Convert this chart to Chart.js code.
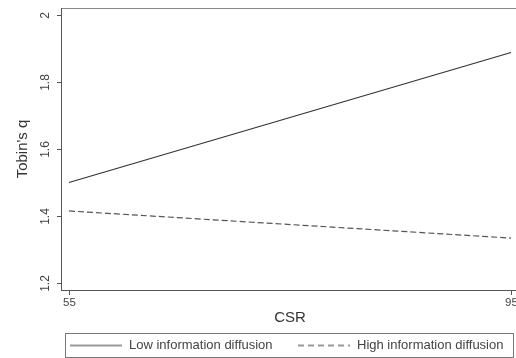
<!DOCTYPE html>
<html>
<head>
<meta charset="utf-8">
<script src="https://cdn.jsdelivr.net/npm/chart.js@4"></script>
<style>
  html, body { margin: 0; padding: 0; background: #fff; overflow: hidden; }
  #wrap { width: 524px; height: 358px; }
</style>
</head>
<body>
<div id="wrap"><canvas id="chart"></canvas></div>
<script>
// data
const csrPoints = [55, 95]
const lowDiffusion = [1.50, 1.888]
const highDiffusion = [1.415, 1.334]
const seriesLabels = ["Low information diffusion", "High information diffusion"]
const xTickValues = [55, 95]
const yTickValues = [1.2, 1.4, 1.6, 1.8, 2]
const yTickText = ["1.2", "1.4", "1.6", "1.8", "2"]

const FONT = "'Liberation Sans', Arial, sans-serif"

// axes, frame, labels and legend drawn by hand in Stata style
const stataFrame = {
    id: "stataFrame",
    beforeDatasetsDraw(chart) {
        const ctx = chart.ctx
        const a = chart.chartArea
        ctx.save()
        ctx.strokeStyle = "#8a8a8a"
        ctx.lineWidth = 1
        ctx.strokeRect(a.left + 0.5, a.top + 0.5, a.right - a.left, a.bottom - a.top)
        ctx.strokeStyle = "#555"
        ctx.beginPath()
        ctx.moveTo(a.left + 0.5, a.top); ctx.lineTo(a.left + 0.5, a.bottom + 0.5)
        ctx.lineTo(a.right, a.bottom + 0.5)
        ctx.stroke()
        ctx.restore()
    },
    afterDraw(chart) {
        const ctx = chart.ctx
        const a = chart.chartArea
        const xs = chart.scales.x
        const ys = chart.scales.y
        ctx.save()
        ctx.strokeStyle = "#555"
        ctx.fillStyle = "#444"
        ctx.lineWidth = 1

        // y ticks + rotated labels
        ctx.font = "12px " + FONT
        ctx.textAlign = "center"
        ctx.textBaseline = "middle"
        yTickValues.forEach((v, i) => {
            const py = Math.round(ys.getPixelForValue(v)) + 0.5
            ctx.beginPath(); ctx.moveTo(a.left - 4, py); ctx.lineTo(a.left, py); ctx.stroke()
            ctx.save()
            ctx.translate(a.left - 15, py)
            ctx.rotate(-Math.PI / 2)
            ctx.fillText(yTickText[i], 0, 0)
            ctx.restore()
        })

        // x ticks + labels
        ctx.font = "11.5px " + FONT
        xTickValues.forEach(v => {
            const px = Math.round(xs.getPixelForValue(v)) + 0.5
            ctx.beginPath(); ctx.moveTo(px, a.bottom); ctx.lineTo(px, a.bottom + 5); ctx.stroke()
            ctx.fillText(String(v), px, a.bottom + 13)
        })

        // axis titles
        ctx.fillStyle = "#333"
        ctx.font = "15px " + FONT
        ctx.fillText("CSR", (a.left + a.right) / 2, a.bottom + 28)
        ctx.save()
        ctx.translate(23, (a.top + a.bottom) / 2)
        ctx.rotate(-Math.PI / 2)
        ctx.fillText("Tobin's q", 0, 0)
        ctx.restore()

        // legend box
        ctx.strokeStyle = "#777"
        ctx.strokeRect(65.5, 333.5, 448, 24)
        ctx.font = "13px " + FONT
        ctx.textAlign = "left"
        const ly = 345.5
        const items = [
            { x: 70, tx: 129, dash: [], color: "#999" },
            { x: 298, tx: 357, dash: [6, 4], color: "#999" }
        ]
        chart.data.datasets.forEach((ds, i) => {
            const it = items[i]
            ctx.save()
            ctx.strokeStyle = it.color
            ctx.lineWidth = 2
            ctx.setLineDash(it.dash)
            ctx.beginPath(); ctx.moveTo(it.x, ly); ctx.lineTo(it.x + 52, ly); ctx.stroke()
            ctx.restore()
            ctx.fillStyle = "#444"
            ctx.fillText(ds.label, it.tx, ly)
        })
        ctx.restore()
    }
}

new Chart(document.getElementById("chart").getContext("2d"), {
    type: "line",
    data: {
        datasets: [
            {
                label: seriesLabels[0],
                data: csrPoints.map((x, i) => ({ x: x, y: lowDiffusion[i] })),
                borderColor: "#333",
                borderWidth: 1.2,
                pointRadius: 0
            },
            {
                label: seriesLabels[1],
                data: csrPoints.map((x, i) => ({ x: x, y: highDiffusion[i] })),
                borderColor: "#555",
                borderWidth: 1.2,
                borderDash: [6, 3],
                pointRadius: 0
            }
        ]
    },
    options: {
        responsive: true,
        maintainAspectRatio: false,
        animation: false,
        layout: { padding: { left: 61, top: 8, right: 5, bottom: 68 } },
        scales: {
            x: { type: "linear", min: 54.28, max: 95.72, display: false },
            y: { type: "linear", min: 1.179, max: 2.021, display: false }
        },
        plugins: {
            legend: { display: false },
            tooltip: { enabled: false }
        }
    },
    plugins: [stataFrame]
})
</script>
</body>
</html>
